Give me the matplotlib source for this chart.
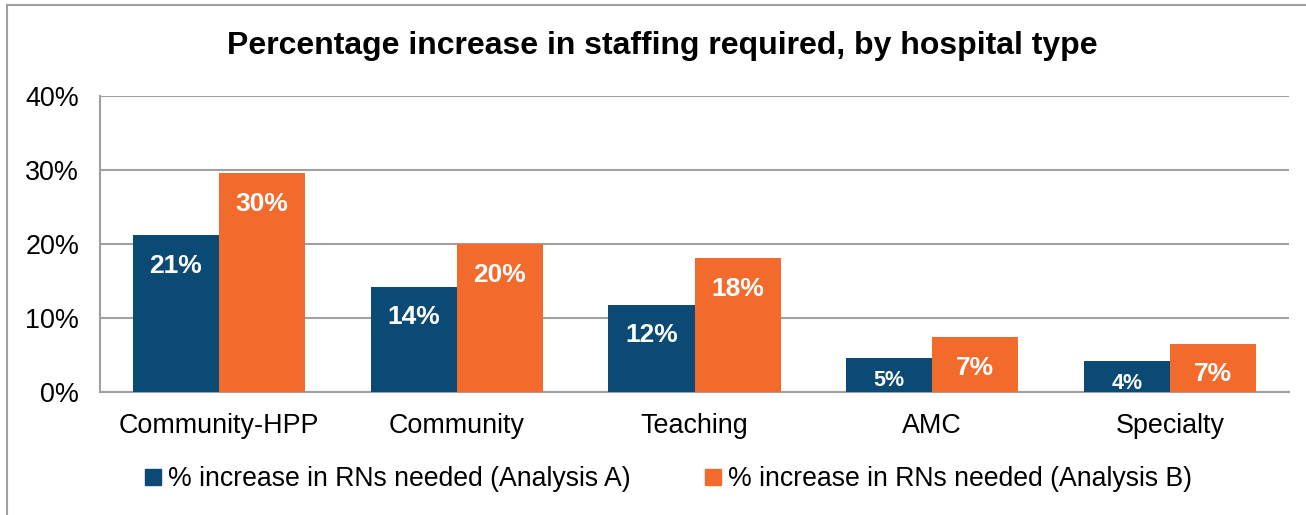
import numpy as np
import matplotlib.pyplot as plt
from matplotlib.lines import Line2D

categories = ["Community-HPP", "Community", "Teaching", "AMC", "Specialty"]
analysis_a = [21.2, 14.2, 11.8, 4.6, 4.2]
analysis_b = [29.6, 20.0, 18.1, 7.4, 6.5]
labels_a = ["21%", "14%", "12%", "5%", "4%"]
labels_b = ["30%", "20%", "18%", "7%", "7%"]
series_names = ["% increase in RNs needed (Analysis A)", "% increase in RNs needed (Analysis B)"]

navy = "#0B4A74"
orange = "#F26A2C"
grey = "#A0A0A0"


def main():
    plt.rcParams["font.family"] = ["Liberation Sans", "DejaVu Sans"]
    fig = plt.figure(figsize=(13.06, 5.15), dpi=100)
    ax = fig.add_axes([100 / 1306, 1 - 392 / 515, 1189 / 1306, 296 / 515])

    x = np.arange(len(categories))
    w = 0.362
    bars_a = ax.bar(x - w / 2, analysis_a, w, color=navy, zorder=3)
    bars_b = ax.bar(x + w / 2, analysis_b, w, color=orange, zorder=3)

    for bars, labels in ((bars_a, labels_a), (bars_b, labels_b)):
        for b, lab in zip(bars, labels):
            small = b.get_height() < 6
            ax.annotate(lab, (b.get_x() + b.get_width() / 2, b.get_height()),
                        xytext=(0, -16.5 if small else -22), textcoords="offset points",
                        ha="center", va="center", color="white", fontweight="bold",
                        fontsize=15.5 if small else 19, zorder=4)

    ax.set_xlim(-0.5, len(categories) - 0.5)
    ax.set_ylim(0, 40)
    ax.set_yticks([0, 10, 20, 30, 40])
    ax.set_yticklabels(["0%", "10%", "20%", "30%", "40%"])
    ax.set_xticks(x)
    ax.set_xticklabels(categories)
    ax.tick_params(axis="both", length=0, labelsize=19.4, colors="black")
    ax.tick_params(axis="y", pad=15)
    ax.tick_params(axis="x", pad=15)
    ax.grid(axis="y", color=grey, linewidth=1.5, zorder=0)
    for s in ("top", "right"):
        ax.spines[s].set_visible(False)
    for s in ("left", "bottom"):
        ax.spines[s].set_color(grey)
        ax.spines[s].set_linewidth(1.5)

    fig.text(662 / 1306, 1 - 46 / 515, "Percentage increase in staffing required, by hospital type",
             ha="center", va="center", fontsize=23, fontweight="bold")

    handles = [Line2D([], [], marker="s", linestyle="none", markersize=11, color=c)
               for c in (navy, orange)]
    fig.legend(handles, series_names, loc="center", bbox_to_anchor=(666 / 1306, 1 - 479 / 515),
               ncol=2, frameon=False, fontsize=19.2, handletextpad=0.05, columnspacing=2.6,
               handlelength=1.0)

    # outer frame (left and top edges visible)
    fig.add_artist(Line2D([7 / 1306, 7 / 1306], [0, 1 - 5 / 515], color=grey, lw=1.5))
    fig.add_artist(Line2D([7 / 1306, 1], [1 - 5 / 515, 1 - 5 / 515], color=grey, lw=1.5))

    fig.savefig("out.png", dpi=100)


if __name__ == "__main__":
    main()
